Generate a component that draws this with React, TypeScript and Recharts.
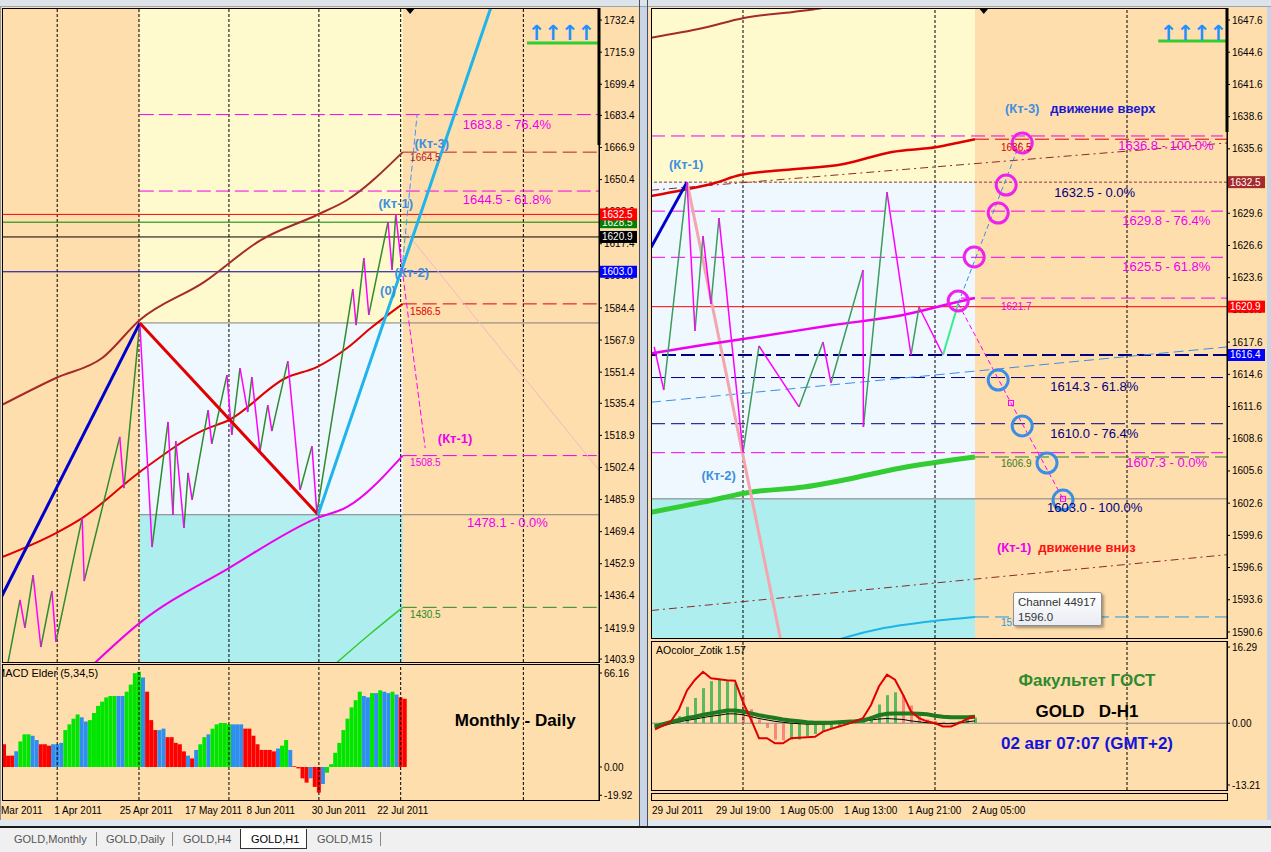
import React from 'react';
import {
  ComposedChart, BarChart, Bar, Line, XAxis, YAxis,
  ReferenceLine, ReferenceArea, ReferenceDot, Cell,
} from 'recharts';

const FONT = '"Liberation Sans", Arial, sans-serif';
const ORANGE = '#FFDEAD';
const YELLOW = '#FFFACD';
const PALE = '#F0F8FF';
const CYAN = '#AFEEEE';
const MAGENTA = '#ee00ee';
const NAVY = '#000080';
const KT_BLUE = '#3d8fe0';

// ---------------- left window: GOLD Daily (x = bar number, y = price) ----------------
const dayXDomain = [-0.5, 145.5];
const dayYDomain = [1402.4, 1738.6];
const dayPriceTicks = [1732.4, 1715.9, 1699.4, 1683.4, 1666.9, 1650.4, 1633.9, 1617.4, 1600.9, 1584.4, 1567.9,
  1551.4, 1535.4, 1518.9, 1502.4, 1485.9, 1469.4, 1452.9, 1436.4, 1419.9, 1403.9];
const dayTimeTicks = [0, 13, 29, 45, 60, 76, 92];
const dayTimeLabels = ['Mar 2011', '1 Apr 2011', '25 Apr 2011', '17 May 2011', '8 Jun 2011', '30 Jun 2011', '22 Jul 2011'];
const dayGrid = [13, 33, 55, 77, 97, 127];
const dayZoneX = [33.2, 97.5];
const dayZoneY = [1576.7, 1478.1];

const dayZigzag = [
  [1, 1402.4], [3.9, 1434.3], [5.1, 1419.9], [7.1, 1447.1], [9, 1410.1], [11.7, 1438.9], [12.7, 1412.7],
  [19.1, 1476.4], [19.6, 1444.0], [28.3, 1518.1], [29.3, 1491.8], [33.2, 1576.7], [36.2, 1461.5],
  [40.1, 1525.8], [41.3, 1478.0], [42, 1516.0], [44, 1471.3], [45, 1499.6], [46, 1485.7], [49.9, 1531.9],
  [50.8, 1514.5], [54.5, 1549.9], [55.7, 1519.1], [57.7, 1553.5], [59.6, 1530.9], [60.6, 1548.9],
  [62.6, 1510.9], [64.5, 1534.5], [65.5, 1521.1], [69.4, 1557.1], [72.4, 1490.8], [75.3, 1513.4],
  [76.5, 1479.0], [85.3, 1594.1], [86.1, 1575.6], [88, 1610.1], [89.2, 1580.8], [93.9, 1628.6],
  [94.9, 1603.9], [95.8, 1632.5], [97, 1610.1],
];
const dayBrownMa = [[-1, 1534.0], [12.7, 1548.4], [24, 1558.7], [33.2, 1578.2], [48.9, 1597.7], [62.8, 1619.3],
  [76.5, 1632.2], [83.9, 1639.9], [97.5, 1664.5]];
const dayRedMa = [[-1, 1455.9], [12.7, 1468.7], [19.1, 1476.4], [33.2, 1500.1], [48.9, 1521.7], [55, 1526.8],
  [68.9, 1548.4], [76.5, 1554.0], [83.9, 1563.8], [89.7, 1574.1], [97.5, 1586.5]];
const dayMagentaMa = [[21.5, 1400.5], [33.2, 1422.5], [55, 1450.7], [76.5, 1476.4], [83.9, 1482.1], [97.5, 1508.5]];
const dayGreenMa = [[80.5, 1400.5], [89.5, 1416.8], [97.5, 1430.5]];
const dayBlueLeg = [[-1, 1434.3], [33.2, 1576.7]];
const dayRedLeg = [[33.2, 1576.7], [76.8, 1478.1]];
const dayCyanLeg = [[76.8, 1478.1], [120.5, 1747.8]];
const dayDownProj = [[97, 1610.1], [103, 1512.4]];
const dayUpProj = [[97.3, 1603.9], [101, 1683.6]];
const dayPinkRay = [[97.5, 1625.5], [145.5, 1501.1]];

const dayFibo = [1683.8, 1644.5];
const dayZoneEdges = [1576.7, 1478.1];
const dayMaEnds = [1664.5, 1586.5, 1508.5, 1430.5];
const dayTags = [1628.5, 1632.5, 1620.9, 1603.0];

const dayFiboText = [
  { x: 112.2, y: 1678.9, t: '1683.8 - 76.4%' },
  { x: 112.2, y: 1640.4, t: '1644.5 - 61.8%' },
  { x: 113.2, y: 1473.9, t: '1478.1 - 0.0%' },
];
const dayMaEndText = [
  { x: 99.3, y: 1661.5, t: '1664.5' },
  { x: 99.3, y: 1582.8, t: '1586.5' },
  { x: 99.3, y: 1504.7, t: '1508.5' },
  { x: 99.3, y: 1426.6, t: '1430.5' },
];
const dayKtText = [
  { x: 95.8, y: 1638.3, t: '(Кт-1)' },
  { x: 99.7, y: 1602.4, t: '(Кт-2)' },
  { x: 93.9, y: 1593.6, t: '(0)' },
  { x: 104.6, y: 1669.2, t: '(Кт-3)' },
];
const dayKtDown = { x: 110.3, y: 1517.5, t: '(Кт-1)' };
const dayArrows = { x: 136.2, y: 1725.7, line: 1720.6, from: 127.9 };
const dayShiftMark = { x: 99.3, bar: 1668.2 };

// MACD Elder (5,34,5), one value per daily bar
const macdValues = [16, 8, 8, 11, 18, 23, 23, 22, 19, 16, 16, 15, 16, 16, 17, 26, 30, 34, 37, 35, 32, 33, 38, 43,
  46, 49, 50, 50, 50, 50, 53, 58, 66, 67, 63, 53, 33, 26, 26, 27, 21, 21, 17, 16, 11, 8, 6, 12, 16, 21, 23, 27,
  30, 31, 31, 30, 30, 30, 30, 27, 27, 22, 16, 12, 12, 12, 11, 13, 15, 19, 12, 0.5, -1, -8, -11, -8, -14, -18,
  -12, -4, 2, 10, 17, 26, 34, 42, 47, 53, 50, 49, 52, 52, 54, 53, 52, 53, 51, 49, 48];
const macdState = ('rrrbgggbbr' + 'rrbbbggggb' + 'bgggggggbb' + 'ggggbrrrbb' + 'rrrrrbrbgg' + 'bgggggbbbr' +
  'rrrrrrrbgg' + 'brrrrbrrbg' + 'ggggggggbb' + 'gbgbbgbrr').split('');
const macdTicks = [66.16, 0, -19.92];
const macdDomain = [-23.23, 72.49];
const macdNote = { x: 125, y: 32.4, t: 'Monthly - Daily' };

// ---------------- right window: GOLD H1 ----------------
const hXDomain = [-0.5, 71.5];
const hYDomain = [1590.04, 1648.72];
const hPriceTicks = [1647.6, 1644.6, 1641.6, 1638.6, 1635.6, 1632.6, 1629.6, 1626.6, 1623.6, 1620.6, 1617.6,
  1614.6, 1611.6, 1608.6, 1605.6, 1602.6, 1599.6, 1596.6, 1593.6, 1590.6];
const hTimeTicks = [0, 8, 16, 24, 32, 40];
const hTimeLabels = ['29 Jul 2011', '29 Jul 19:00', '1 Aug 05:00', '1 Aug 13:00', '1 Aug 21:00', '2 Aug 05:00'];
const hGrid = [11, 35, 59];
const hZoneX = [-0.5, 40];
const hZoneY = [1632.5, 1603.0];

const hZigzag = [[-0.1, 1617.15], [1.1, 1613.14], [4, 1632.5], [5, 1618.63], [6, 1627.48], [7, 1621.15],
  [8, 1629.16], [11, 1607.3], [13, 1617.24], [18, 1611.56], [21, 1617.61], [22, 1613.79], [26, 1624.32],
  [26.05, 1609.69], [29, 1631.58], [32, 1616.4], [33, 1620.87], [36, 1616.4]];
const hLastLeg = [[36, 1616.4], [37.9, 1621.2]];
const hRedMa = [[-0.5, 1631.2], [3.5, 1631.77], [7.5, 1632.42], [10.6, 1633.16], [16.1, 1633.63], [23.6, 1634.19],
  [29.6, 1635.31], [35.25, 1635.77], [37.75, 1636.14], [40, 1636.5]];
const hBrownMa = [[-0.5, 1645.95], [6, 1646.85], [11.1, 1647.79], [17.25, 1648.35], [20.1, 1648.62], [24.1, 1649.2]];
const hMagentaMa = [[-0.5, 1616.55], [6, 1617.33], [13.5, 1618.17], [22.25, 1619.19], [31, 1620.12],
  [37.25, 1621.24], [40, 1621.7]];
const hGreenMa = [[-0.5, 1601.75], [6, 1602.7], [12.1, 1603.64], [18.6, 1604.1], [23.6, 1604.76],
  [30.75, 1605.88], [40, 1606.9]];
const hCyanMa = [[21, 1589.4], [23.6, 1590.04], [28.6, 1590.97], [33.75, 1591.53], [40, 1592.0]];
const hUpperChannel = [[-0.5, 1631.75], [71.5, 1636.15]];
const hLowerChannel = [[-0.5, 1592.6], [71.5, 1597.8]];
const hBlueChannel = [[-0.5, 1612.0], [71.5, 1617.15]];
const hNavyLeg = [[-0.5, 1626.4], [4, 1632.5]];
const hPinkLeg = [[4, 1632.5], [16.75, 1586.1]];
const hDownProj = [[37.9, 1621.2], [44.5, 1611.93], [51, 1603.0]];
const hUpProj = [[37.9, 1621.2], [45.75, 1636.42]];
const hProjMarks = [[44.5, 1611.93], [51, 1603.0]];
const hMagentaCircles = [[45.9, 1636.14], [43.9, 1632.23], [42.9, 1629.62], [39.9, 1625.53], [37.9, 1621.43]];
const hBlueCircles = [[42.9, 1614.07], [45.9, 1609.79], [49, 1606.34], [51, 1602.89]];

const hMagentaLevels = [1636.8, 1629.8, 1625.5, 1607.3];
const hNavyLevels = [1614.3, 1610.0];
const hMaEnds = [1636.5, 1621.7, 1606.9, 1592.0];
const hMaEndFrom = [40, 38.25, 40, 40];
const hTags = [1632.5, 1620.9, 1616.4];

const hMagentaText = [
  { x: 57.9, y: 1635.87, t: '1636.8 - 100.0%' },
  { x: 58.4, y: 1628.97, t: '1629.8 - 76.4%' },
  { x: 58.4, y: 1624.6, t: '1625.5 - 61.8%' },
  { x: 58.9, y: 1606.43, t: '1607.3 - 0.0%' },
];
const hNavyText = [
  { x: 49.9, y: 1631.58, t: '1632.5 - 0.0%' },
  { x: 49.4, y: 1613.42, t: '1614.3 - 61.8%' },
  { x: 49.4, y: 1609.13, t: '1610.0 - 76.4%' },
  { x: 49, y: 1602.24, t: '1603.0 - 100.0%' },
];
const hMaEndText = [
  { x: 43.25, y: 1635.77, t: '1636.5' },
  { x: 43.25, y: 1620.96, t: '1621.7' },
  { x: 43.25, y: 1606.34, t: '1606.9' },
  { x: 43.25, y: 1591.44, t: '1592.0' },
];
const hKtText = [
  { x: 3.9, y: 1634.1, t: '(Кт-1)' },
  { x: 7.96, y: 1605.13, t: '(Кт-2)' },
  { x: 45.9, y: 1639.4, t: '(Кт-3)' },
];
const hUpNote = { x: 49.4, y: 1639.4, t: 'движение вверх' };
const hDownKt = { x: 44.9, y: 1598.43, t: '(Кт-1)' };
const hDownNote = { x: 47.9, y: 1598.43, t: 'движение вниз' };
const hArrows = { x: 67.25, y: 1646.39, line: 1645.64, from: 62.9 };
const hShiftMark = { x: 41.1, bar: 1637.17 };

// AOcolor_Zotik 1.57, one value per H1 bar
const aoHist = [-1, -0.5, 0.5, 1.5, 3.5, 5.4, 7.5, 9, 9.4, 9, 8.5, 6, 3, 0.8, -1, -3.5, -3.7, -3.5, -3.5, -2.8,
  -2.3, -1.8, -1.3, -0.8, -0.3, 0.3, 0.8, 1.5, 4, 6, 6.6, 6, 3.8, 1.8, 0.8, 0.5, 0.3, 0.2, 0.5, 0.8, 1.2];
const aoState = ('ggggggggggg' + 'pppppp' + 'gggggggggggggg' + 'ppppppp' + 'ggg').split('');
const aoRed = [-1.3, -0.5, 0.4, 3, 7, 9.3, 11, 9.6, 9.4, 9.2, 9.1, 4.5, 0.8, -3.2, -3.2, -4.3, -4.3, -3.2, -3.1, -3,
  -2.9, -1.8, -1.2, -0.7, -0.2, 0.4, 1.1, 3.9, 7.9, 10.4, 9.3, 6.1, 2.5, 1.1, 0.4, 0, -0.7, -0.7, 0, 0.9, 1.5];
const aoGreen = [-0.7, -0.2, 0.3, 0.7, 1.1, 1.4, 1.8, 2.1, 2.4, 2.7, 2.7, 2.5, 2.1, 1.7, 1.4, 1.1, 0.8, 0.6, 0.4, 0.2,
  0.1, 0.1, 0.1, 0.2, 0.3, 0.4, 0.6, 1.1, 1.7, 2.0, 2.1, 2.1, 2.1, 2.0, 1.9, 1.6, 1.4, 1.3, 1.3, 1.3, 1.4];
const aoBlack = [-1.1, -0.6, -0.1, 0.3, 0.6, 0.9, 1.2, 1.5, 1.7, 2.0, 2.0, 1.8, 1.4, 1.0, 0.7, 0.4, 0.2, 0, -0.1, -0.2,
  -0.2, -0.2, -0.1, 0, 0.1, 0.2, 0.4, 0.7, 0.9, 1.0, 0.9, 0.8, 0.5, 0.3, 0.1, 0, -0.1, -0.1, 0.1, 0.3, 0.5];
const aoTicks = [16.29, 0, -13.21];
const aoDomain = [-14.28, 17.58];
const aoNotes = [
  { x: 54, y: 9.2, t: 'Факультет ГОСТ' },
  { x: 54, y: 2.6, t: 'GOLD   D-H1' },
  { x: 54, y: -4.3, t: '02 авг 07:07 (GMT+2)' },
];

const tabs = ['GOLD,Monthly', 'GOLD,Daily', 'GOLD,H4', 'GOLD,H1', 'GOLD,M15'];

// ---------------- helpers ----------------
const MACD_COLORS: any = { r: '#ff0000', g: '#00e600', b: '#2f8ff0' };
const AO_COLORS: any = { g: '#5cb85c', p: '#f4877f' };
const DAY_TAG_COLORS = ['#008000', '#ff0000', '#000000', '#0000ff'];
const DAY_TAG_LINES = ['#008000', '#ff0000', '#000000', '#0000a0'];
const DAY_END_COLORS = ['#b22222', '#e00000', MAGENTA, '#228b22'];
const H_END_COLORS = ['#e00000', MAGENTA, '#3a7a1a', '#1e9be0'];
const H_TAG_COLORS = ['#a52a2a', '#ff0000', '#0000ff'];

const pts = (a: number[][]) => a.map(([x, y]) => ({ x, y }));

// splits a zigzag into rising and falling legs (null breaks the line between legs)
function legs(v: number[][]) {
  const up: any[] = [];
  const down: any[] = [];
  for (let k = 1; k < v.length; k++) {
    const target = v[k][1] > v[k - 1][1] ? up : down;
    target.push({ x: v[k - 1][0], y: v[k - 1][1] }, { x: v[k][0], y: v[k][1] }, { x: v[k][0], y: null });
  }
  return { up, down };
}

const txt = (t: string, o: any) => (p: any) => (
  <text x={p.cx} y={p.cy} dominantBaseline="central" fontFamily={FONT} style={{ whiteSpace: 'pre' }} {...o}>{t}</text>
);

const AxisTag = ({ viewBox, text, bg }: any) => {
  if (!viewBox) return null;
  const x = viewBox.x + viewBox.width + 1;
  const y = viewBox.y;
  return (
    <g>
      <rect x={x} y={y - 6} width={37} height={12} fill={bg} />
      <text x={x + 2} y={y} dominantBaseline="central" fill="#fff" fontSize={10} fontFamily={FONT}>{text}</text>
    </g>
  );
};

const TimeTick = ({ x, y, payload, ticks, labels, dy }: any) => {
  const k = ticks.indexOf(payload.value);
  return (
    <text x={x - 3} y={y + dy} dominantBaseline="central" fontSize={10} fontFamily={FONT} fill="#000">{labels[k]}</text>
  );
};

const Triangle = (p: any) => <path d={`M${p.cx - 5},${p.cy} L${p.cx + 5},${p.cy} L${p.cx},${p.cy + 6} Z`} fill="#000" />;

const axisTick = { fontSize: 10, fill: '#000', fontFamily: FONT };
const arrowStyle = {
  fill: '#1e90ff', fontSize: 21, fontWeight: 'bold', textAnchor: 'middle', letterSpacing: -1,
  fontFamily: '"DejaVu Sans", sans-serif',
};

const line = (key: string, data: any[], stroke: string, width: number, extra: any = {}) => (
  <Line key={key} data={Array.isArray(data[0]) ? pts(data as number[][]) : data} dataKey="y" type="linear"
    stroke={stroke} strokeWidth={width} dot={false} activeDot={false} isAnimationActive={false}
    connectNulls={false} {...extra} />
);

// price tags on the axis, drawn in their own layer so they cover the tick labels
function TagLayer({ width, height, margin, xDomain, yDomain, yWidth, tags, colors }: any) {
  return (
    <ComposedChart width={width} height={height} margin={margin}>
      <XAxis type="number" dataKey="x" domain={xDomain} allowDataOverflow hide />
      <YAxis type="number" orientation="right" domain={yDomain} allowDataOverflow width={yWidth} tick={false}
        tickLine={false} axisLine={false} />
      <Line data={[{ x: xDomain[0], y: yDomain[0] }, { x: xDomain[1], y: yDomain[0] }]} dataKey="y" stroke="none"
        dot={false} isAnimationActive={false} />
      {tags.map((v: number, k: number) => (
        <ReferenceLine key={'tag' + v} y={v} stroke="none" ifOverflow="visible"
          label={<AxisTag text={v.toFixed(1)} bg={colors[k]} />} />
      ))}
    </ComposedChart>
  );
}

// ---------------- charts ----------------
const dayMainMargin = { top: 8, right: 0, bottom: 10, left: 2 };

function DailyMain() {
  const zz = legs(dayZigzag);
  return (
    <ComposedChart width={640} height={672} margin={dayMainMargin}>
      <XAxis type="number" dataKey="x" domain={dayXDomain} allowDataOverflow hide />
      <YAxis type="number" orientation="right" domain={dayYDomain} allowDataOverflow ticks={dayPriceTicks}
        interval={0} width={41} tick={axisTick} tickSize={3} tickMargin={2} tickLine={{ stroke: '#000' }}
        axisLine={{ stroke: '#000' }} tickFormatter={(v: number) => v.toFixed(1)} />
      <ReferenceArea x1={dayZoneX[0]} x2={dayZoneX[1]} y1={dayZoneY[0]} y2={dayYDomain[1]} fill={YELLOW} fillOpacity={1} stroke="none" />
      <ReferenceArea x1={dayZoneX[0]} x2={dayZoneX[1]} y1={dayZoneY[1]} y2={dayZoneY[0]} fill={PALE} fillOpacity={1} stroke="none" />
      <ReferenceArea x1={dayZoneX[0]} x2={dayZoneX[1]} y1={dayYDomain[0]} y2={dayZoneY[1]} fill={CYAN} fillOpacity={1} stroke="none" />
      {dayGrid.map((g) => <ReferenceLine key={'g' + g} x={g} stroke="#000" strokeDasharray="3 2" />)}
      {dayZoneEdges.map((v) => (
        <ReferenceLine key={'ze' + v} segment={[{ x: dayZoneX[0], y: v }, { x: dayXDomain[1], y: v }]} stroke="#7f7f7f" />
      ))}
      {dayFibo.map((v) => (
        <ReferenceLine key={'f' + v} segment={[{ x: dayZoneX[0], y: v }, { x: dayXDomain[1], y: v }]}
          stroke={MAGENTA} strokeDasharray="14 5" />
      ))}
      {dayMaEnds.map((v, k) => (
        <ReferenceLine key={'me' + v} segment={[{ x: dayZoneX[1], y: v }, { x: dayXDomain[1], y: v }]}
          stroke={DAY_END_COLORS[k]} strokeDasharray="14 6" />
      ))}
      {dayTags.map((v, k) => (
        <ReferenceLine key={'t' + v} y={v} stroke={DAY_TAG_LINES[k]} />
      ))}
      {line('pink', dayPinkRay, '#f3b6c4', 1)}
      {line('brown', dayBrownMa, '#a52a2a', 2, { type: 'monotone' })}
      {line('redma', dayRedMa, '#e00000', 2, { type: 'monotone' })}
      {line('magma', dayMagentaMa, MAGENTA, 2, { type: 'monotone' })}
      {line('grma', dayGreenMa, '#33cc33', 1.5, { type: 'monotone' })}
      {line('up', zz.up, '#2e8b2e', 1.5)}
      {line('down', zz.down, '#ff00ff', 1.5)}
      {line('blue', dayBlueLeg, '#0000cc', 3)}
      {line('red', dayRedLeg, '#e00000', 3)}
      {line('cyan', dayCyanLeg, '#1fb4ea', 3)}
      {line('dproj', dayDownProj, '#ff00ff', 1, { strokeDasharray: '6 3' })}
      {line('uproj', dayUpProj, '#3399ff', 1, { strokeDasharray: '6 3' })}
      <ReferenceLine segment={[{ x: dayArrows.from, y: dayArrows.line }, { x: dayXDomain[1], y: dayArrows.line }]}
        stroke="#33cc33" strokeWidth={3} />
      <ReferenceLine segment={[{ x: dayXDomain[1], y: dayShiftMark.bar }, { x: dayXDomain[1], y: dayYDomain[1] }]}
        stroke="#000" strokeWidth={3} />
      <ReferenceDot x={dayShiftMark.x} y={dayYDomain[1]} r={0} shape={Triangle} />
      <ReferenceDot x={dayArrows.x} y={dayArrows.y} r={0} shape={txt('↑↑↑↑', arrowStyle)} />
      {dayFiboText.map((a) => (
        <ReferenceDot key={a.t} x={a.x} y={a.y} r={0} shape={txt(a.t, { fill: MAGENTA, fontSize: 13 })} />
      ))}
      {dayMaEndText.map((a, k) => (
        <ReferenceDot key={a.t} x={a.x} y={a.y} r={0} shape={txt(a.t, { fill: DAY_END_COLORS[k], fontSize: 10 })} />
      ))}
      {dayKtText.map((a) => (
        <ReferenceDot key={a.t + a.x} x={a.x} y={a.y} r={0}
          shape={txt(a.t, { fill: KT_BLUE, fontSize: 13, fontWeight: 'bold', textAnchor: 'middle' })} />
      ))}
      <ReferenceDot x={dayKtDown.x} y={dayKtDown.y} r={0}
        shape={txt(dayKtDown.t, { fill: MAGENTA, fontSize: 13, fontWeight: 'bold', textAnchor: 'middle' })} />
    </ComposedChart>
  );
}

function DailyMacd() {
  const data = Array.from({ length: 146 }, (_, i) => ({
    i, v: i < macdValues.length ? macdValues[i] : null,
  }));
  return (
    <BarChart width={640} height={162} data={data} margin={{ top: 0, right: 0, bottom: 6, left: 2 }}
      barCategoryGap={0} barGap={0}>
      <XAxis dataKey="i" type="category" ticks={dayTimeTicks} interval={0} height={20} axisLine={false}
        tickLine={false} tickSize={0} tickMargin={0}
        tick={<TimeTick ticks={dayTimeTicks} labels={dayTimeLabels} dy={10} />} />
      <YAxis orientation="right" domain={macdDomain} allowDataOverflow ticks={macdTicks} interval={0} width={41}
        tick={axisTick} tickSize={3} tickMargin={2} tickLine={{ stroke: '#000' }} axisLine={{ stroke: '#000' }}
        tickFormatter={(v: number) => v.toFixed(2)} />
      {dayGrid.map((g) => <ReferenceLine key={'g' + g} x={g} stroke="#000" strokeDasharray="3 2" />)}
      <Bar dataKey="v" isAnimationActive={false}>
        {data.map((d: any, i: number) => <Cell key={i} fill={MACD_COLORS[macdState[i]] || 'none'} />)}
      </Bar>
      <ReferenceDot x={macdNote.x} y={macdNote.y} r={0}
        shape={txt(macdNote.t, { fill: '#000', fontSize: 17, fontWeight: 'bold', textAnchor: 'middle' })} />
    </BarChart>
  );
}

const hMainMargin = { top: 8, right: 4, bottom: 0, left: 3 };

function HourMain() {
  const zz = legs(hZigzag);
  return (
    <ComposedChart width={623} height={638} margin={hMainMargin}>
      <XAxis type="number" dataKey="x" domain={hXDomain} allowDataOverflow hide />
      <YAxis type="number" orientation="right" domain={hYDomain} allowDataOverflow ticks={hPriceTicks}
        interval={0} width={40} tick={axisTick} tickSize={3} tickMargin={2} tickLine={{ stroke: '#000' }}
        axisLine={{ stroke: '#000' }} tickFormatter={(v: number) => v.toFixed(1)} />
      <ReferenceArea x1={hZoneX[0]} x2={hZoneX[1]} y1={hZoneY[0]} y2={hYDomain[1]} fill={YELLOW} fillOpacity={1} stroke="none" />
      <ReferenceArea x1={hZoneX[0]} x2={hZoneX[1]} y1={hZoneY[1]} y2={hZoneY[0]} fill={PALE} fillOpacity={1} stroke="none" />
      <ReferenceArea x1={hZoneX[0]} x2={hZoneX[1]} y1={hYDomain[0]} y2={hZoneY[1]} fill={CYAN} fillOpacity={1} stroke="none" />
      {hGrid.map((g) => <ReferenceLine key={'g' + g} x={g} stroke="#000" strokeDasharray="3 2" />)}
      <ReferenceLine y={hZoneY[1]} stroke="#7f7f7f" />
      {hMagentaLevels.map((v) => (
        <ReferenceLine key={'m' + v} segment={[{ x: hXDomain[0], y: v }, { x: 71, y: v }]} stroke={MAGENTA}
          strokeDasharray="14 6" />
      ))}
      {hNavyLevels.map((v) => (
        <ReferenceLine key={'n' + v} segment={[{ x: hXDomain[0], y: v }, { x: 71, y: v }]} stroke={NAVY}
          strokeDasharray="14 6" />
      ))}
      {hMaEnds.map((v, k) => (
        <ReferenceLine key={'e' + v} segment={[{ x: hMaEndFrom[k], y: v }, { x: hXDomain[1], y: v }]}
          stroke={H_END_COLORS[k]} strokeDasharray="14 6" />
      ))}
      {hTags.map((v, k) => (
        <ReferenceLine key={'t' + v} y={v}
          stroke={k === 0 ? '#8b3a3a' : k === 1 ? '#ff0000' : NAVY}
          strokeWidth={k === 2 ? 2 : 1}
          strokeDasharray={k === 0 ? '3 2' : k === 2 ? '14 5' : undefined} />
      ))}
      {line('uch', hUpperChannel, '#8b2a2a', 1, { strokeDasharray: '8 4 2 4' })}
      {line('lch', hLowerChannel, '#8b2a2a', 1, { strokeDasharray: '8 4 2 4' })}
      {line('bch', hBlueChannel, '#3a8ee6', 1, { strokeDasharray: '10 5' })}
      {line('brown', hBrownMa, '#a52a2a', 2, { type: 'monotone' })}
      {line('red', hRedMa, '#e00000', 2.5, { type: 'monotone' })}
      {line('cyan', hCyanMa, '#1eb4ea', 2, { type: 'monotone' })}
      {line('green', hGreenMa, '#33cc33', 5, { type: 'monotone' })}
      {line('pink', hPinkLeg, '#f4a6ae', 3)}
      {line('navy', hNavyLeg, '#0000cc', 3)}
      {line('magma', hMagentaMa, MAGENTA, 2.5, { type: 'monotone' })}
      {line('up', zz.up, '#3c9c5c', 1.5)}
      {line('down', zz.down, '#ff00ff', 1.5)}
      {line('last', hLastLeg, '#33f08c', 2)}
      {line('dproj', hDownProj, '#ff00ff', 1, { strokeDasharray: '5 3' })}
      {line('uproj', hUpProj, '#3a8ee6', 1, { strokeDasharray: '5 3' })}
      {hProjMarks.map(([x, y]) => (
        <ReferenceDot key={'pm' + x} x={x} y={y} r={0}
          shape={(p: any) => <rect x={p.cx - 2.5} y={p.cy - 2.5} width={5} height={5} fill="none" stroke="#ff00ff" />} />
      ))}
      {hMagentaCircles.map(([x, y]) => (
        <ReferenceDot key={'mc' + x} x={x} y={y} r={10} fill="none" stroke="#ee22ee" strokeWidth={3} />
      ))}
      {hBlueCircles.map(([x, y]) => (
        <ReferenceDot key={'bc' + x} x={x} y={y} r={10} fill="none" stroke="#3a8ee6" strokeWidth={3} />
      ))}
      <ReferenceLine segment={[{ x: hArrows.from, y: hArrows.line }, { x: hXDomain[1], y: hArrows.line }]}
        stroke="#33cc33" strokeWidth={3} />
      <ReferenceLine segment={[{ x: hXDomain[1], y: hShiftMark.bar }, { x: hXDomain[1], y: hYDomain[1] }]}
        stroke="#000" strokeWidth={3} />
      <ReferenceDot x={hShiftMark.x} y={hYDomain[1]} r={0} shape={Triangle} />
      <ReferenceDot x={hArrows.x} y={hArrows.y} r={0} shape={txt('↑↑↑↑', arrowStyle)} />
      {hMagentaText.map((a) => (
        <ReferenceDot key={a.t} x={a.x} y={a.y} r={0} shape={txt(a.t, { fill: MAGENTA, fontSize: 13 })} />
      ))}
      {hNavyText.map((a) => (
        <ReferenceDot key={a.t} x={a.x} y={a.y} r={0} shape={txt(a.t, { fill: NAVY, fontSize: 13 })} />
      ))}
      {hMaEndText.map((a, k) => (
        <ReferenceDot key={a.t} x={a.x} y={a.y} r={0} shape={txt(a.t, { fill: H_END_COLORS[k], fontSize: 10 })} />
      ))}
      {hKtText.map((a) => (
        <ReferenceDot key={a.t + a.x} x={a.x} y={a.y} r={0}
          shape={txt(a.t, { fill: KT_BLUE, fontSize: 13, fontWeight: 'bold', textAnchor: 'middle' })} />
      ))}
      <ReferenceDot x={hUpNote.x} y={hUpNote.y} r={0}
        shape={txt(hUpNote.t, { fill: '#1a1ad0', fontSize: 13, fontWeight: 'bold' })} />
      <ReferenceDot x={hDownKt.x} y={hDownKt.y} r={0}
        shape={txt(hDownKt.t, { fill: MAGENTA, fontSize: 13, fontWeight: 'bold', textAnchor: 'middle' })} />
      <ReferenceDot x={hDownNote.x} y={hDownNote.y} r={0}
        shape={txt(hDownNote.t, { fill: '#ff1010', fontSize: 13, fontWeight: 'bold' })} />
    </ComposedChart>
  );
}

function HourAo() {
  const data = Array.from({ length: 72 }, (_, i) => ({
    i,
    h: i < aoHist.length ? aoHist[i] : null,
    r: i < aoRed.length ? aoRed[i] : null,
    g: i < aoGreen.length ? aoGreen[i] : null,
    k: i < aoBlack.length ? aoBlack[i] : null,
  }));
  const noteStyle = [
    { fill: '#2e8b2e', fontSize: 17, fontWeight: 'bold', textAnchor: 'middle' },
    { fill: '#000', fontSize: 17, fontWeight: 'bold', textAnchor: 'middle' },
    { fill: '#1414d8', fontSize: 17, fontWeight: 'bold', textAnchor: 'middle' },
  ];
  return (
    <ComposedChart width={623} height={185} data={data} margin={{ top: 0, right: 4, bottom: 5, left: 3 }}>
      <XAxis dataKey="i" type="category" ticks={hTimeTicks} interval={0} height={31} axisLine={false}
        tickLine={false} tickSize={0} tickMargin={0}
        tick={<TimeTick ticks={hTimeTicks} labels={hTimeLabels} dy={20} />} />
      <YAxis orientation="right" domain={aoDomain} allowDataOverflow ticks={aoTicks} interval={0} width={40}
        tick={axisTick} tickSize={3} tickMargin={2} tickLine={{ stroke: '#000' }} axisLine={{ stroke: '#000' }}
        tickFormatter={(v: number) => v.toFixed(2)} />
      {hGrid.map((g) => <ReferenceLine key={'g' + g} x={g} stroke="#000" strokeDasharray="3 2" />)}
      <ReferenceLine y={0} stroke="#8c8c8c" />
      <Bar dataKey="h" barSize={3} isAnimationActive={false}>
        {data.map((d: any, i: number) => <Cell key={i} fill={AO_COLORS[aoState[i]] || 'none'} />)}
      </Bar>
      <Line dataKey="k" stroke="#000" strokeWidth={1} dot={false} isAnimationActive={false} />
      <Line dataKey="g" stroke="#1e7a1e" strokeWidth={4} dot={false} isAnimationActive={false} />
      <Line dataKey="r" stroke="#e00000" strokeWidth={2} dot={false} isAnimationActive={false} />
      {aoNotes.map((a, k) => (
        <ReferenceDot key={a.t} x={a.x} y={a.y} r={0} shape={txt(a.t, noteStyle[k])} />
      ))}
    </ComposedChart>
  );
}

const frame = (left: number, top: number, width: number, height: number) => ({
  position: 'absolute' as const, left, top, width, height, border: '1px solid #000', boxSizing: 'border-box' as const,
  pointerEvents: 'none' as const,
});

export default function App() {
  const tabX = [14, 106, 183, 251, 317];
  return (
    <div style={{ position: 'absolute', left: 0, top: 0, width: 1271, height: 852, overflow: 'hidden', background: '#c9d5e4', fontFamily: FONT }}>
      <div style={{ position: 'absolute', left: 0, top: 0, width: 1271, height: 6, background: '#dde3ea', borderBottom: '1px solid #9aa6b6' }} />
      <div style={{ position: 'absolute', left: 0, top: 7, width: 639, height: 813, background: ORANGE, borderLeft: '1px solid #8a96a8', boxSizing: 'border-box' }} />
      <div style={{ position: 'absolute', left: 0, top: 820, width: 640, height: 6, background: '#dfe7f1' }} />
      <div style={{ position: 'absolute', left: 639, top: 0, width: 1, height: 826, background: '#44505e' }} />
      <div style={{ position: 'absolute', left: 647, top: 0, width: 1, height: 826, background: '#44505e' }} />
      <div style={{ position: 'absolute', left: 648, top: 7, width: 619, height: 813, background: ORANGE }} />
      <div style={{ position: 'absolute', left: 648, top: 820, width: 623, height: 6, background: '#dfe7f1' }} />

      <div style={{ position: 'absolute', left: 0, top: 0 }}><DailyMain /></div>
      <div style={{ position: 'absolute', left: 0, top: 664 }}><DailyMacd /></div>
      <div style={{ position: 'absolute', left: 648, top: 0 }}><HourMain /></div>
      <div style={{ position: 'absolute', left: 648, top: 641 }}><HourAo /></div>
      <div style={{ position: 'absolute', left: 0, top: 0, pointerEvents: 'none' }}>
        <TagLayer width={640} height={672} margin={dayMainMargin} xDomain={dayXDomain} yDomain={dayYDomain}
          yWidth={41} tags={dayTags} colors={DAY_TAG_COLORS} />
      </div>
      <div style={{ position: 'absolute', left: 648, top: 0, pointerEvents: 'none' }}>
        <TagLayer width={623} height={638} margin={hMainMargin} xDomain={hXDomain} yDomain={hYDomain}
          yWidth={40} tags={hTags} colors={H_TAG_COLORS} />
      </div>

      <div style={frame(2, 8, 598, 655)} />
      <div style={frame(2, 664, 598, 137)} />
      <div style={frame(651, 8, 577, 631)} />
      <div style={frame(651, 641, 577, 150)} />
      <div style={frame(651, 793, 577, 8)} />

      <div style={{ position: 'absolute', left: 3, top: 667, width: 200, overflow: 'hidden', fontSize: 11, lineHeight: '13px', whiteSpace: 'nowrap' }}>
        <span style={{ marginLeft: -7 }}>MACD Elder (5,34,5)</span>
      </div>
      <div style={{ position: 'absolute', left: 656, top: 644, fontSize: 10.5, lineHeight: '13px', whiteSpace: 'nowrap' }}>AOcolor_Zotik 1.57</div>

      <div style={{ position: 'absolute', left: 1013, top: 592, width: 89, height: 34, boxSizing: 'border-box', border: '1px solid #8f8f8f', borderRadius: 2, background: 'linear-gradient(#ffffff, #e9ecf2)', boxShadow: '2px 2px 3px rgba(0,0,0,0.35)', fontSize: 11.5, lineHeight: '15px', padding: '2px 4px', color: '#333', whiteSpace: 'nowrap' }}>
        Channel 44917<br />1596.0
      </div>

      <div style={{ position: 'absolute', left: 0, top: 826, width: 1271, height: 26, background: '#f0f0f0', borderTop: '2px solid #1a1a1a', boxSizing: 'border-box' }} />
      <div style={{ position: 'absolute', left: 240, top: 829, width: 67, height: 20, background: '#fff', border: '1px solid #333', borderTop: 'none', boxSizing: 'border-box' }} />
      {tabs.map((t, k) => (
        <div key={t} style={{ position: 'absolute', left: tabX[k], top: 832, fontSize: 11, lineHeight: '14px', color: k === 3 ? '#000' : '#555', whiteSpace: 'nowrap' }}>{t}</div>
      ))}
      {[96, 172, 380].map((x) => (
        <div key={x} style={{ position: 'absolute', left: x, top: 832, width: 1, height: 14, background: '#888' }} />
      ))}
    </div>
  );
}
